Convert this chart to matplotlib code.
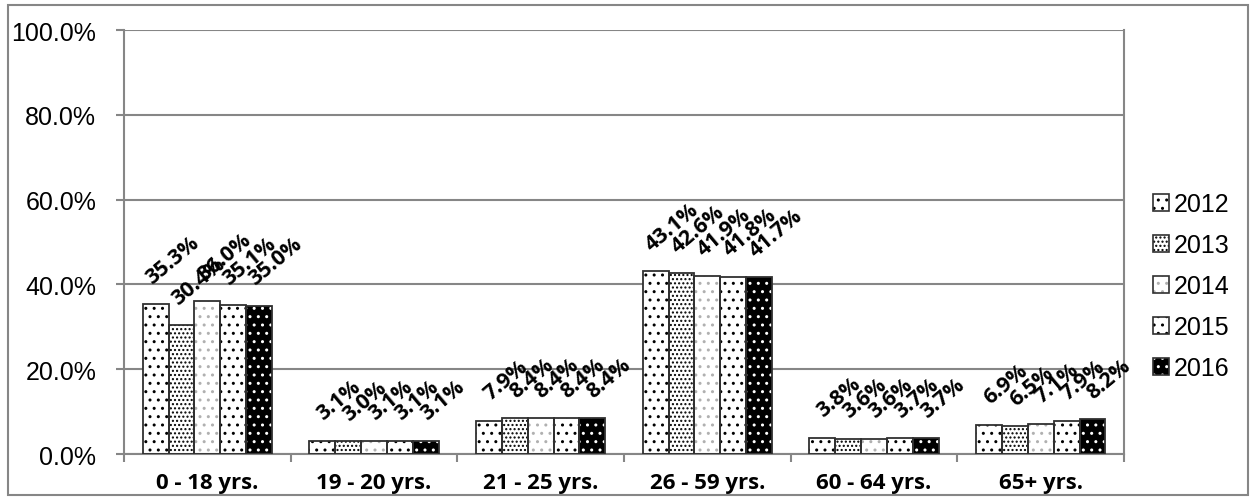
import matplotlib.pyplot as plt
import numpy as np
from matplotlib.patches import Patch, Rectangle

categories = ["0 - 18 yrs.", "19 - 20 yrs.", "21 - 25 yrs.", "26 - 59 yrs.", "60 - 64 yrs.", "65+ yrs."]
years = ["2012", "2013", "2014", "2015", "2016"]
v2012 = [35.3, 3.1, 7.9, 43.1, 3.8, 6.9]
v2013 = [30.4, 3.0, 8.4, 42.6, 3.6, 6.5]
v2014 = [36.0, 3.1, 8.4, 41.9, 3.6, 7.1]
v2015 = [35.1, 3.1, 8.4, 41.8, 3.7, 7.9]
v2016 = [35.0, 3.1, 8.4, 41.7, 3.7, 8.2]
series = [v2012, v2013, v2014, v2015, v2016]

# face, hatch, hatch colour
styles = [("white", "..", "black"),
          ("white", "....", "black"),
          ("white", "..", "#b0b0b0"),
          ("white", "..", "black"),
          ("black", "..", "white")]

plt.rcParams['font.family'] = ['Liberation Sans', 'DejaVu Sans']
plt.rcParams['hatch.linewidth'] = 1.0
bold_font = ["Open Sans", "DejaVu Sans"]

fig = plt.figure(figsize=(12.56, 5.02), dpi=100)
ax = fig.add_axes([0.0987, 0.0936, 0.7963, 0.8446])

x = np.arange(len(categories))
w = 0.155
handles = []
for i, vals in enumerate(series):
    face, hatch, hc = styles[i]
    pos = x + (i - 2) * w
    ax.bar(pos, vals, w, color=face, hatch=hatch, edgecolor=hc, linewidth=0, zorder=2)
    ax.bar(pos, vals, w, fill=False, edgecolor="#303030", linewidth=1.3, zorder=3)
    for px, v in zip(pos, vals):
        ax.annotate(f"{v:.1f}%", (px, v), xytext=(12, 12), textcoords="offset points",
                    rotation=40, ha="center", va="bottom", fontsize=15.5,
                    fontweight="bold", family=bold_font, zorder=4)
    handles.append((Patch(facecolor=face, hatch=hatch, edgecolor=hc, linewidth=0),
                    Patch(fill=False, edgecolor="#303030", linewidth=1.2)))

ax.set_ylim(0, 100)
ax.set_xlim(-0.5, len(categories) - 0.5)
ax.set_yticks(np.arange(0, 101, 20))
ax.set_yticklabels([f"{t:.1f}%" for t in np.arange(0, 101, 20)], fontsize=18)
ax.yaxis.grid(True, color="#868686", linewidth=1.5, zorder=0)
ax.set_axisbelow(True)

ax.set_xticks(x)
ax.set_xticklabels(categories, fontsize=16, fontweight="bold", family=bold_font)
ax.set_xticks(np.arange(-0.5, len(categories)), minor=True)
ax.tick_params(axis="x", which="major", length=0, pad=13)
ax.tick_params(axis="x", which="minor", length=6, width=1.5, color="#868686")
ax.tick_params(axis="y", length=6, width=1.5, color="#868686", pad=14)

for side in ["left", "bottom", "right"]:
    ax.spines[side].set_color("#868686")
    ax.spines[side].set_linewidth(1.5)
ax.spines["top"].set_visible(False)

fig.legend(handles, years, loc="center left", bbox_to_anchor=(0.9, 0.428),
           frameon=False, fontsize=18, handlelength=0.65, handleheight=0.65,
           handletextpad=0.2, labelspacing=0.68)

fig.patches.append(Rectangle((0.006, 0.012), 0.988, 0.976, transform=fig.transFigure,
                             fill=False, edgecolor="#868686", linewidth=1.5))

fig.savefig("out.png", dpi=100)
